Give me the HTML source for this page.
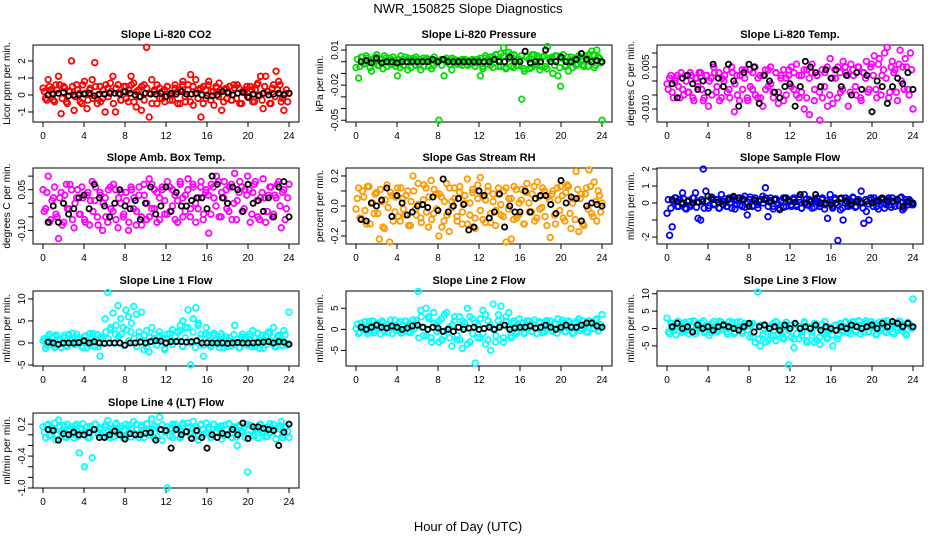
<!DOCTYPE html>
<html><head><meta charset="utf-8"><style>
html,body{margin:0;padding:0;background:#fff;width:936px;height:540px;overflow:hidden}
svg text{font-family:"Liberation Sans",Arial,sans-serif;fill:#000}
</style></head><body>
<svg id="chart" xmlns="http://www.w3.org/2000/svg" width="936" height="540" viewBox="0 0 936 540">
<text x="468" y="13" font-size="13" text-anchor="middle">NWR_150825  Slope Diagnostics</text>
<text x="468" y="531" font-size="13" text-anchor="middle">Hour of Day (UTC)</text>
</svg>
<script>
const xTicks=[0,4,8,12,16,20,24];
const titles=["Slope Li-820 CO2","Slope Li-820 Pressure","Slope Li-820 Temp.","Slope Amb. Box Temp.","Slope Gas Stream RH","Slope Sample Flow","Slope Line 1 Flow","Slope Line 2 Flow","Slope Line 3 Flow","Slope Line 4 (LT) Flow"];
const yLabels=["Licor ppm per min.","kPa per min.","degrees C per min.","degrees C per min.","percent per min.","ml/min per min.","ml/min per min.","ml/min per min.","ml/min per min.","ml/min per min."];
const colors=["#ff0000","#00dd00","#ff00ff","#ff00ff","#ff9900","#0000ff","#00ffff","#00ffff","#00ffff","#00ffff"];
const yDomains=[[-1.59,2.94],[-0.0515,0.0143],[-0.01464,0.01286],[-0.15,0.13],[-0.253,0.253],[-2.41,2.06],[-5.23,11.8],[-8.7,9.1],[-10.8,10.8],[-1.0,0.41]];
const yTicks=[[-1,0,1,2],[0.01,0,-0.01,-0.02,-0.03,-0.04,-0.05],[0.01,0.005,0,-0.005,-0.01],[0.1,0.05,0,-0.05,-0.1],[0.2,0.1,0,-0.1,-0.2],[2,1,0,-1,-2],[10,5,0,-5],[5,0,-5],[10,5,0,-5],[0.2,0,-0.2,-0.4,-0.6,-0.8,-1.0]];
const yTickLabels=[["-1","0","1","2"],["0.01","-0.02","-0.05"],["0.005","-0.010"],["0.05","-0.10"],["0.2","0.0","-0.2"],["2","1","0","-2"],["10","5","0","-5"],["5","0","-5"],["10","5","0","-5"],["0.2","-0.4","-1.0"]];
const yTickLabelValues=[[-1,0,1,2],[0.01,-0.02,-0.05],[0.005,-0.01],[0.05,-0.1],[0.2,0,-0.2],[2,1,0,-2],[10,5,0,-5],[5,0,-5],[10,5,0,-5],[0.2,-0.4,-1.0]];

const co2=[0.4,-0.2,0.9,0.3,-0.3,0.6,1.1,-1.1,0.5,-0.4,0.2,2.0,-0.9,0.6,0.1,-0.5,0.8,-0.8,0.3,0.9,1.9,-0.5,0.5,-0.2,-1.0,0.4,0.7,1.1,-1.0,0.6,-0.3,0.2,0.5,-0.4,1.1,0.7,-0.7,0.3,-0.9,0.6,2.8,-1.3,0.9,0.2,-0.5,0.4,-0.2,0.3,0.5,-0.3,0.1,0.6,-0.5,0.3,0.8,-0.4,0.6,1.2,-0.6,0.9,0.3,-1.3,0.5,-0.2,0.8,0.2,-0.6,0.4,0.7,-0.9,0.3,-0.2,0.5,-0.3,0.4,0.6,-0.5,0.2,0.3,-0.1,0.5,-0.4,0.3,0.7,1.1,-0.8,1.1,0.2,-0.5,0.6,1.4,0.8,-0.4,-0.9,0.3,0.1];
const co2B=[0.2,-0.3,0.5,0.1,-0.4,0.3,0.6,-0.2,0.4,-0.5,0.2,0.5,-0.1,0.3,-0.4,0.6,0.1,-0.3,0.4,-0.2,0.5,0.0,-0.4,0.3,0.6,-0.1,0.2,-0.5,0.4,0.1,-0.3,0.5,-0.2,0.3,0.6,-0.4,0.2,-0.1,0.5,-0.3,0.4,0.1,-0.5,0.3,0.6,-0.2,0.2,-0.4,0.5,0.0,-0.3,0.4,0.2,-0.5,0.6,-0.1,0.3,-0.4,0.5,0.1,-0.2,0.4,-0.5,0.3,0.6,-0.3,0.2,0.5,-0.1,0.3,-0.4,0.4,0.1,-0.3,0.6,-0.2,0.4,-0.5,0.2,0.5,-0.1,0.3,-0.4,0.6,0.0,-0.3,0.5,0.2,-0.5,0.4,-0.1,0.3,0.6,-0.2,0.1,-0.4];
const co2Mean=[0.0,0.05,0.1,0.15,-0.05,0.0,0.0,0.05,0.1,-0.05,0.05,0.05,0.1,0.1,0.05,0.2,0.1,0.0,-0.1,0.1,0.05,0.05,0.1,-0.1,0.1,0.05,0.2,0.05,0.05,0.1,0.0,-0.05,-0.05,0.0,0.2,0.15,0.0,0.1,0.15,-0.15,0.05,-0.05,0.1,0.0,0.05,0.1,0.0,0.1];
const pres=[-0.005,-0.014,0.004,-0.002,0.005,0.001,-0.008,0.003,0.006,-0.003,0.002,0.005,-0.004,0.003,-0.002,0.001,-0.012,-0.005,0.002,0.004,-0.007,0.001,0.003,-0.003,0.002,-0.007,0.003,0.001,-0.004,0.002,-0.003,0.001,-0.05,0.002,-0.012,0.003,0.001,-0.007,0.002,-0.002,0.001,-0.003,0.002,0.0,-0.002,0.001,-0.004,0.002,-0.012,-0.006,0.003,0.002,-0.003,0.004,0.006,-0.004,0.007,0.012,-0.005,0.008,-0.004,0.006,-0.003,0.002,-0.032,-0.008,0.004,-0.006,0.006,-0.003,0.005,-0.007,0.004,-0.004,0.013,0.003,-0.010,0.005,-0.012,-0.021,0.006,-0.003,-0.008,0.004,0.002,-0.003,0.005,0.002,-0.004,0.003,0.006,0.009,-0.005,0.01,0.003,-0.05];
const presB=[0.002,-0.004,0.004,-0.001,0.003,-0.005,0.001,0.004,-0.003,0.002,-0.006,0.003,0.001,-0.002,0.004,-0.004,0.002,0.005,-0.003,0.000,0.003,-0.005,0.002,0.004,-0.002,0.001,-0.004,0.003,0.002,-0.006,0.004,-0.001,0.001,-0.003,0.002,0.000,-0.002,0.003,-0.001,0.001,-0.002,0.002,0.000,-0.003,0.001,0.002,-0.001,0.000,0.003,-0.004,0.005,-0.002,0.004,-0.005,0.006,0.001,-0.004,0.005,-0.006,0.003,0.006,-0.005,0.002,-0.003,0.005,-0.006,0.004,0.002,-0.005,0.006,-0.002,0.003,-0.004,0.005,-0.006,0.002,0.004,-0.003,0.005,-0.005,0.003,-0.004,0.004,0.001,-0.005,0.003,-0.002,0.004,-0.003,0.005,-0.004,0.002,0.006,-0.003,0.004,-0.001];
const presMean=[0.0,0.001,-0.001,0.003,-0.001,0.0,0.0,-0.001,0.0,0.0,0.0,0.0,0.0,0.0,0.002,0.0,0.002,0.0,0.0,0.0,0.0,0.0,0.0,0.0,0.0,0.0,0.002,0.0,0.0,0.004,0.0,0.0,0.009,-0.001,0.0,0.0,0.01,0.0,0.0,0.004,0.0,0.0,0.002,0.007,0.002,0.0,0.001,0.0];
const temp=[-0.001,0.001,-0.004,0.0,0.002,-0.006,-0.003,0.002,-0.004,0.003,-0.006,0.001,-0.002,0.003,-0.007,0.002,-0.009,0.001,0.005,-0.004,0.003,-0.006,0.0,0.004,-0.003,0.005,-0.011,0.002,-0.007,0.004,0.001,-0.006,0.004,-0.003,0.005,-0.006,0.002,-0.009,0.004,-0.002,0.005,-0.004,0.003,-0.008,0.001,0.004,-0.005,0.002,0.005,-0.003,0.006,-0.006,0.002,-0.010,0.004,-0.012,0.006,-0.003,0.002,-0.014,-0.006,0.003,-0.009,0.008,-0.008,0.001,0.005,-0.004,0.007,0.003,-0.009,0.006,0.002,-0.005,0.005,-0.007,0.003,0.007,-0.003,0.006,0.009,-0.006,0.008,0.002,0.010,0.012,-0.004,0.007,0.004,-0.007,0.011,0.005,0.008,-0.003,0.010,-0.010];
const tempB=[-0.003,0.002,-0.006,0.001,-0.002,0.003,-0.005,0.000,-0.004,0.002,-0.007,0.001,0.003,-0.003,-0.006,0.002,0.000,-0.005,0.003,-0.002,-0.007,0.001,0.002,-0.004,-0.006,0.003,-0.001,-0.005,0.002,-0.003,0.004,-0.007,-0.002,0.003,-0.005,0.001,-0.006,0.002,-0.003,0.004,-0.001,-0.006,0.003,-0.004,0.002,-0.007,0.001,0.004,-0.002,0.003,-0.005,0.002,-0.004,0.004,-0.006,0.001,0.003,-0.007,0.002,-0.004,0.004,-0.002,0.005,-0.005,0.001,0.004,-0.006,0.003,-0.003,0.005,0.002,-0.004,0.004,-0.002,0.005,-0.006,0.003,0.001,-0.004,0.005,0.002,-0.003,0.006,-0.005,0.004,0.001,-0.006,0.005,0.003,-0.004,0.006,0.000,-0.003,0.005,-0.005,0.004];
const tempMean=[-0.001,-0.006,0.001,0.002,-0.001,-0.003,0.0,-0.004,0.006,0.001,-0.002,0.006,0.0,-0.009,0.003,0.006,0.005,-0.008,0.002,0.0,-0.004,-0.006,-0.002,-0.001,-0.009,-0.002,0.007,0.005,0.003,-0.002,0.004,0.001,0.004,-0.002,0.002,-0.005,0.003,-0.003,0.002,-0.011,0.0,-0.002,-0.008,-0.002,0.001,-0.001,0.003,-0.003];
const amb=[0.05,-0.02,0.10,-0.06,0.02,-0.04,-0.13,0.04,-0.07,0.07,-0.02,0.05,-0.09,0.02,-0.04,0.06,-0.06,0.03,-0.08,0.08,0.01,-0.05,0.04,-0.10,0.02,-0.07,0.06,-0.03,0.05,-0.09,0.0,-0.05,0.04,-0.10,0.06,-0.02,-0.08,0.03,-0.05,0.07,-0.06,0.09,-0.02,0.05,-0.07,0.02,0.06,-0.04,0.08,-0.03,0.05,-0.06,0.01,0.07,-0.05,0.03,0.09,-0.02,0.06,-0.07,0.02,0.08,-0.04,0.05,-0.11,0.07,0.02,0.10,-0.05,0.04,0.08,-0.02,0.06,-0.06,0.11,0.01,0.08,-0.03,0.05,0.10,-0.07,0.04,0.08,-0.05,0.02,0.09,-0.07,0.03,0.06,-0.04,0.02,0.08,-0.09,0.05,-0.02,0.07];
const ambB=[-0.03,0.04,-0.07,0.01,0.06,-0.05,0.02,-0.08,0.03,-0.02,0.07,-0.06,0.00,0.05,-0.04,0.02,-0.07,0.04,0.01,-0.03,0.06,-0.08,0.03,0.00,-0.05,0.05,-0.02,0.07,-0.06,0.02,0.04,-0.04,0.01,-0.07,0.05,0.02,-0.03,0.06,-0.08,0.03,0.00,-0.05,0.07,-0.02,0.04,-0.06,0.05,0.01,-0.04,0.06,-0.01,0.03,-0.07,0.08,0.02,-0.03,0.05,-0.05,0.07,0.00,-0.02,0.06,-0.06,0.04,0.03,-0.04,0.06,-0.01,0.08,-0.05,0.02,0.05,-0.03,0.07,0.00,-0.06,0.04,0.06,-0.02,0.03,0.05,-0.04,0.07,0.01,-0.06,0.04,0.02,-0.03,0.06,-0.05,0.03,0.07,-0.01,0.04,-0.06,0.02];
const ambMean=[-0.07,-0.01,-0.07,0.0,-0.04,-0.02,0.02,0.03,-0.02,0.07,0.02,-0.01,-0.05,0.0,0.05,-0.01,-0.02,0.01,-0.06,0.0,0.06,-0.04,-0.01,0.06,-0.03,0.04,-0.01,-0.01,0.01,0.02,0.02,-0.02,0.10,0.07,0.02,0.0,0.06,0.05,-0.03,0.07,0.0,0.01,-0.03,0.02,-0.05,0.06,0.08,-0.05];
const rh=[-0.02,0.12,-0.08,0.06,-0.12,0.13,0.02,-0.05,0.09,-0.22,0.03,-0.15,0.14,-0.24,0.07,-0.04,0.12,-0.10,0.05,-0.06,0.10,-0.13,0.20,-0.02,0.15,-0.08,0.04,0.12,-0.14,0.17,-0.05,0.08,-0.20,0.06,-0.10,0.15,-0.17,0.03,0.12,-0.07,0.09,-0.12,0.02,0.18,-0.06,0.11,-0.15,0.05,0.19,-0.09,0.04,0.13,-0.11,0.08,-0.03,0.12,-0.06,0.10,-0.24,0.05,-0.22,0.13,-0.08,0.02,0.11,-0.12,0.15,-0.04,0.08,-0.10,0.16,-0.02,0.12,-0.07,0.06,-0.21,0.10,-0.12,0.04,0.13,-0.08,0.09,0.13,-0.15,0.05,0.23,-0.17,0.08,-0.13,0.12,0.24,-0.05,0.16,-0.10,0.07,0.02];
const rhB=[0.05,-0.08,0.10,-0.03,0.13,-0.12,0.02,0.08,-0.05,0.11,-0.14,0.04,-0.01,0.09,-0.10,0.06,-0.07,0.12,-0.02,0.07,-0.13,0.03,0.10,-0.06,0.01,-0.11,0.14,-0.04,0.06,-0.09,0.11,-0.02,0.08,-0.14,0.03,-0.06,0.12,-0.01,0.05,-0.10,0.13,-0.04,0.07,-0.12,0.02,0.09,-0.08,0.14,-0.03,0.06,-0.11,0.10,-0.05,0.03,-0.13,0.08,0.01,-0.07,0.12,-0.02,0.05,-0.09,0.11,-0.06,0.04,-0.12,0.09,0.02,-0.04,0.13,-0.08,0.06,-0.01,0.10,-0.13,0.04,0.08,-0.06,0.12,-0.03,0.07,-0.10,0.14,-0.05,0.02,-0.09,0.11,0.05,-0.12,0.08,-0.02,0.13,-0.07,0.03,0.10,-0.04];
const rhMean=[-0.09,-0.1,0.02,0.0,0.04,0.12,-0.07,0.07,0.02,-0.06,-0.04,0.0,0.01,-0.01,0.06,-0.03,0.18,-0.04,0.0,0.05,0.01,-0.16,-0.14,0.10,0.07,-0.08,-0.04,0.08,-0.14,0.0,-0.04,-0.04,0.10,-0.04,0.05,0.07,0.07,0.01,-0.05,0.17,0.02,0.06,0.05,-0.1,0.0,0.02,0.01,0.0];
const samp=[-0.6,-1.9,-1.4,0.3,-0.2,0.2,0.6,-0.3,0.1,-0.2,0.3,0.6,-0.9,-1.0,2.0,0.7,-0.3,0.3,-0.1,0.2,-0.3,0.5,0.1,-0.2,0.3,-0.3,0.2,-0.1,0.3,-0.2,0.4,-0.7,0.2,-0.2,0.3,-0.1,0.2,0.4,0.9,-0.8,0.3,-0.2,0.2,-0.3,0.1,0.3,-0.2,0.2,-0.1,0.3,-0.2,0.2,-0.3,0.5,-0.1,0.2,-0.3,0.2,0.1,-0.2,0.3,-0.1,-0.9,0.5,-0.3,0.2,-2.2,-0.4,-1.0,0.3,-0.2,0.1,0.3,-0.2,0.2,0.7,-1.2,-0.5,-1.0,0.2,0.3,-0.2,0.1,0.2,-0.3,0.2,-0.1,0.3,-0.2,0.1,0.3,-0.4,0.2,-0.1,0.1,-0.1];
const sampB=[0.2,-0.3,0.1,0.3,-0.2,0.0,0.25,-0.35,0.15,-0.1,0.3,-0.25,0.05,0.2,-0.3,0.1,-0.15,0.35,-0.05,0.2,-0.3,0.1,0.25,-0.2,0.0,0.3,-0.35,0.15,-0.1,0.25,-0.25,0.05,0.35,-0.15,0.1,-0.3,0.2,0.0,0.3,-0.2,0.15,-0.35,0.25,-0.05,0.1,-0.25,0.3,0.05,-0.2,0.2,-0.1,0.35,-0.3,0.0,0.25,-0.15,0.1,-0.25,0.3,-0.05,0.2,-0.35,0.15,0.05,-0.2,0.3,-0.1,0.25,-0.3,0.0,0.2,-0.15,0.35,-0.25,0.1,0.05,-0.3,0.2,-0.05,0.3,-0.2,0.15,-0.35,0.25,0.0,-0.1,0.3,-0.25,0.1,0.2,-0.15,0.35,-0.3,0.05,0.2,-0.1];
const sampMean=[0.2,0.1,0.0,0.1,0.0,0.05,0.1,0.4,0.2,0.05,-0.1,0.2,0.4,0.3,0.2,-0.2,0.2,0.1,0.2,0.05,0.2,-0.4,0.3,0.1,0.05,0.5,0.0,0.1,0.5,0.0,0.0,-0.1,0.0,0.3,0.1,-0.1,0.1,0.0,0.1,0.0,0.1,0.3,0.1,0.1,0.2,-0.2,0.1,0.0];
const line1=[0.5,-1.2,1.5,0.3,-0.5,1.8,0.8,-1.0,1.2,-0.6,1.9,0.4,-0.3,2.0,0.7,-0.8,1.5,-1.0,2.1,0.2,-0.8,1.9,-3.0,1.0,5.5,11.5,3.0,6.8,2.0,8.5,5.5,3.5,7.5,6.0,2.5,8.3,6.5,1.5,7.0,-1.5,2.8,-2.0,3.5,1.0,-0.5,2.5,0.8,-1.5,2.0,0.5,3.0,1.5,2.5,4.0,5.0,3.5,7.5,-5.0,5.5,8.0,4.5,2.0,-3.0,3.5,1.8,-0.5,2.2,0.6,-1.0,1.5,0.3,-0.8,1.2,-0.5,4.0,0.8,-1.0,2.0,0.5,-0.5,1.5,2.8,-0.8,2.2,0.6,-1.2,1.5,2.5,0.5,3.5,-0.8,1.8,0.3,2.8,-0.5,7.0];
const line1B=[1.0,-0.5,2.0,0.2,-1.0,1.5,0.6,-0.2,1.8,-0.8,0.9,2.2,-0.3,1.2,0.0,-1.1,1.6,0.4,-0.6,2.1,0.8,-0.9,1.3,0.1,2.5,1.0,3.5,0.0,4.0,1.5,2.0,-0.5,3.0,0.5,4.5,1.0,-0.8,2.5,0.3,1.8,-1.0,1.2,0.4,2.0,-0.4,1.6,0.9,-1.2,1.0,2.2,-0.3,1.5,0.5,2.8,-0.8,1.2,3.5,0.0,2.5,-1.0,4.0,1.0,-0.5,2.0,0.3,-0.9,1.7,0.6,-0.2,2.1,-1.0,1.3,0.5,-0.7,1.9,0.1,-1.1,1.4,0.8,-0.4,2.0,-0.8,1.1,0.3,-1.2,1.8,0.6,-0.3,2.2,0.0,-0.9,1.5,0.7,-0.6,1.9,-0.2];
const line1Mean=[0.2,0.0,-0.3,0.0,0.0,0.0,0.1,0.5,0.0,0.3,0.0,-0.1,0.0,0.0,0.0,-0.5,0.0,0.0,0.2,0.0,0.3,0.5,0.4,0.0,0.3,0.3,0.3,0.2,0.3,0.5,0.0,0.0,0.0,0.0,0.0,-0.1,0.0,0.1,0.0,0.0,0.0,0.1,0.2,0.3,0.0,0.3,0.2,-0.3];
const line2=[0.2,-1.0,1.5,0.5,-0.5,1.8,0.2,-0.8,1.5,0.3,2.0,-0.5,1.2,0.5,-1.0,2.2,0.3,1.8,-0.6,2.0,1.0,-0.8,2.3,0.5,9.0,4.5,-1.5,5.0,3.0,-2.0,4.0,1.0,-3.0,2.5,-1.5,4.0,0.5,-4.0,2.0,-2.5,3.0,-4.5,1.5,5.0,-3.0,2.5,-8.0,1.0,-2.0,4.5,-3.5,2.0,-5.0,6.0,-1.5,3.5,5.5,-3.0,2.0,4.0,-2.0,1.5,-1.0,2.5,0.5,-1.0,2.0,1.0,-0.5,2.2,0.3,1.5,-0.8,1.8,0.5,2.0,-0.5,1.2,2.5,0.0,1.5,-0.5,2.0,0.8,-0.8,1.8,2.5,0.3,1.0,-0.5,2.0,1.5,0.2,2.5,0.5,3.5];
const line2B=[1.2,-0.6,0.5,1.8,-1.0,0.8,2.0,-0.3,1.0,-1.1,1.6,0.3,-0.7,2.2,0.6,-0.2,1.4,-0.9,0.9,1.9,-0.5,1.1,0.0,2.1,-2.0,3.0,0.5,-1.5,2.5,-3.0,1.5,-0.5,2.0,-2.5,3.5,0.0,-2.0,1.0,3.0,-1.5,-2.5,2.0,0.5,-3.5,3.0,-1.0,1.5,-2.0,2.5,-1.0,3.5,-2.5,1.0,0.0,-3.0,2.0,1.0,-2.0,3.0,0.5,-1.5,2.0,-0.5,1.0,1.5,-0.8,0.6,2.0,-0.4,1.2,-1.0,1.8,0.3,-0.6,2.1,0.8,-0.2,1.5,-0.9,1.0,2.2,-0.5,0.4,1.7,-1.0,1.3,0.6,-0.3,2.0,0.9,-0.7,1.6,0.2,2.2,-0.4,1.1];
const line2Mean=[0.5,0.0,0.5,1.0,0.5,0.3,0.8,0.5,0.0,0.3,0.8,1.0,0.5,0.0,0.5,0.3,-0.5,0.0,-0.5,0.5,0.0,0.3,0.5,0.0,0.2,0.5,0.0,0.5,1.0,0.0,0.3,0.5,0.5,0.8,0.3,0.5,1.0,0.5,0.0,0.5,1.0,0.5,0.5,1.0,1.5,1.5,0.8,0.5];
const line3=[3.0,-1.5,1.5,-0.5,2.0,0.5,-1.0,1.8,-0.5,2.0,0.5,-1.5,1.5,0.2,2.2,-0.8,1.0,-1.2,2.0,0.3,-0.5,1.8,0.6,-1.0,2.0,0.5,-1.5,1.8,0.2,-0.8,1.5,0.8,-2.5,1.5,-4.0,10.5,-5.0,-2.0,1.0,-3.5,0.5,-2.0,2.0,-1.5,1.0,-3.0,0.5,-10.5,-2.5,-5.5,1.0,-3.0,-1.0,2.0,-4.0,0.5,-2.0,1.5,-3.5,-4.5,-1.0,2.0,-2.5,-0.5,-5.0,1.0,-2.0,1.5,-1.0,2.0,0.0,-1.5,1.8,-0.5,2.2,0.3,-1.2,1.5,-0.8,2.0,0.5,-1.5,1.8,0.2,-0.8,2.2,0.6,-1.0,1.5,-0.5,2.0,0.3,-1.5,1.8,0.5,8.5];
const line3B=[-1.0,1.5,0.2,-1.8,2.0,0.6,-0.5,1.2,-1.5,0.8,2.2,-0.8,0.0,1.6,-1.2,0.9,-2.0,1.4,0.3,-0.9,2.1,-0.2,1.0,-1.6,0.5,1.8,-1.0,0.2,2.0,-1.4,0.7,-0.4,1.2,-2.5,0.5,-3.0,1.0,-1.5,-4.0,0.0,-2.0,1.5,-3.5,0.5,-1.0,-2.5,1.8,-0.5,1.0,-3.0,-1.5,0.5,-2.0,1.5,-3.5,0.0,-1.0,-4.0,0.8,-2.5,1.2,-1.5,-3.0,0.5,-1.8,0.8,-3.0,1.2,-0.5,1.8,-1.2,0.4,2.0,-0.8,1.0,-1.6,0.6,2.2,-1.0,0.3,1.5,-1.8,0.9,-0.4,2.0,-1.2,0.7,1.6,-1.5,0.2,2.1,-0.6,1.0,-1.9,1.4,0.0];
const line3Mean=[0.5,1.5,0.0,0.5,-1.0,1.0,0.0,0.5,-0.5,0.5,1.0,0.5,0.0,-0.5,0.5,1.5,-1.0,0.5,1.0,0.0,0.5,-0.5,1.0,0.0,1.5,0.0,0.5,0.0,1.0,-0.5,0.5,0.0,-0.5,0.5,0.0,1.0,0.5,0.0,0.5,1.0,0.0,1.5,0.5,2.0,1.5,0.5,1.5,0.5];
const line4=[0.15,-0.05,0.2,0.0,0.1,-0.1,0.28,0.05,0.18,-0.05,0.1,0.15,-0.06,0.2,-0.34,0.1,-0.6,0.15,-0.05,-0.43,0.2,0.05,0.1,-0.03,0.15,0.27,-0.05,0.1,0.2,0.0,0.12,-0.06,0.2,0.05,-0.04,0.25,0.1,0.0,0.18,-0.05,0.2,0.08,0.3,-0.06,0.15,0.33,-0.1,0.05,-1.0,0.12,-0.05,0.2,0.1,-0.06,0.22,0.05,0.15,-0.04,0.25,0.08,-0.1,0.2,0.0,0.22,0.1,-0.05,0.2,0.05,0.15,-0.08,0.18,0.0,0.2,-0.05,0.12,-0.2,0.15,0.05,-0.05,-0.7,0.18,0.0,0.12,-0.06,0.2,0.08,-0.04,0.15,0.05,0.2,-0.08,0.12,0.25,0.0,0.15,-0.05];
const line4B=[0.05,0.18,-0.02,0.12,0.22,0.0,0.15,0.08,-0.04,0.2,0.1,0.02,0.17,-0.03,0.13,0.21,0.06,-0.05,0.16,0.1,0.2,0.01,0.14,-0.02,0.19,0.07,0.12,-0.04,0.22,0.04,0.16,0.09,-0.01,0.18,0.11,0.03,0.2,-0.05,0.14,0.07,0.21,0.0,0.12,0.17,-0.03,0.1,0.19,0.05,0.15,-0.02,0.2,0.08,0.13,-0.04,0.18,0.06,0.22,0.01,0.11,0.16,-0.03,0.19,0.09,0.04,0.14,-0.05,0.2,0.07,0.12,0.17,-0.01,0.1,0.21,0.03,0.15,-0.04,0.18,0.08,0.13,0.2,0.0,0.16,-0.02,0.11,0.19,0.05,0.14,-0.03,0.21,0.09,0.12,0.02,0.17,-0.05,0.15,0.07];
const line4Mean=[0.1,0.08,-0.1,0.02,0.0,0.05,0.0,0.0,0.04,0.1,-0.05,-0.05,0.0,0.07,0.0,-0.08,0.02,0.0,0.0,0.03,0.04,-0.1,0.1,0.08,-0.25,0.1,0.0,0.06,-0.07,0.08,-0.05,-0.25,0.0,-0.05,0.03,0.0,0.1,0.0,0.22,-0.07,0.15,0.15,0.12,0.1,0.08,-0.2,0.05,0.2];

const series=[co2,pres,temp,amb,rh,samp,line1,line2,line3,line4];
const seriesB=[co2B,presB,tempB,ambB,rhB,sampB,line1B,line2B,line3B,line4B];
const means=[co2Mean,presMean,tempMean,ambMean,rhMean,sampMean,line1Mean,line2Mean,line3Mean,line4Mean];

const NS="http://www.w3.org/2000/svg";
const svg=document.getElementById('chart');
const colLeft=[33,346,657], rowBox=[[45,122],[168,244],[291,366],[413,488]];
const W=266;
function mk(tag,attrs,parent){const e=document.createElementNS(NS,tag);for(const k in attrs)e.setAttribute(k,attrs[k]);parent.appendChild(e);return e;}

series.forEach((vals,p)=>{
  const col=p%3,row=Math.floor(p/3);
  const L=colLeft[col],T=rowBox[row][0],B=rowBox[row][1];
  const [lo,hi]=yDomains[p];
  const xs=h=>L+10+h*(246/24);
  const ys=v=>B-(v-lo)/(hi-lo)*(B-T);
  const g=mk('g',{},svg);
  
  
  const t=mk('text',{x:L+W/2,y:T-7,'font-size':'11','font-weight':'bold','text-anchor':'middle'},g);
  t.textContent=titles[p];
  
  
  const yl=mk('text',{x:0,y:0,'font-size':'10','text-anchor':'middle',transform:`translate(${L-23},${(T+B)/2}) rotate(-90)`},g);
  yl.textContent=yLabels[p];
  
  
  const box=mk('rect',{x:L,y:T,width:W,height:B-T,fill:'none',stroke:'#000','stroke-width':1},g);
  
  
  xTicks.forEach(h=>{
    const tk=mk('line',{x1:xs(h),x2:xs(h),y1:B,y2:B+5,stroke:'#000'},g);
    
    
    const tl=mk('text',{x:xs(h),y:B+17,'font-size':'10','text-anchor':'middle'},g);
    tl.textContent=h;
    
    
  });
  yTicks[p].forEach(v=>{
    const tk=mk('line',{x1:L-5,x2:L,y1:ys(v),y2:ys(v),stroke:'#000'},g);
    
    
  });
  yTickLabelValues[p].forEach((v,i)=>{
    const tl=mk('text',{x:0,y:0,'font-size':'10','text-anchor':'middle',transform:`translate(${L-8},${ys(v)}) rotate(-90)`},g);
    tl.textContent=yTickLabels[p][i];
    
    
  });
  const bv=seriesB[p];
  bv.forEach((v,i)=>{
    const c=mk('circle',{cx:xs((i+0.5)*24/bv.length),cy:ys(v),r:2.8,fill:'none',stroke:colors[p],'stroke-width':1.8},g);
    
    
  });
  vals.forEach((v,i)=>{
    const c=mk('circle',{cx:xs(i*24/(vals.length-1)),cy:ys(v),r:2.8,fill:'none',stroke:colors[p],'stroke-width':1.8},g);
    
    
  });
  means[p].forEach((v,i)=>{
    const c=mk('circle',{cx:xs((i+1)*24/means[p].length),cy:ys(v),r:2.6,fill:'none',stroke:'#000','stroke-width':1.8},g);
    
    
  });
});
</script>
</body></html>
